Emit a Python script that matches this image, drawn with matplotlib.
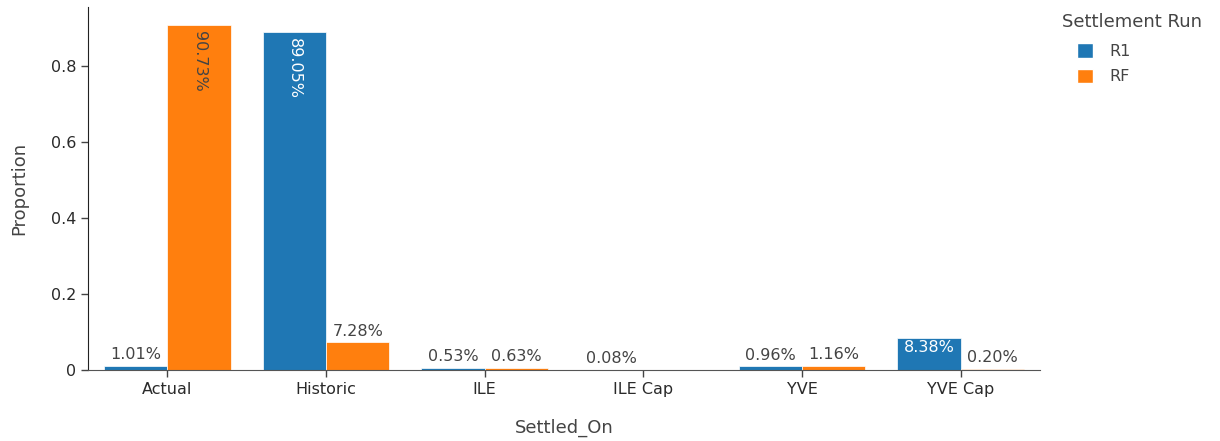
import numpy as np
import matplotlib
matplotlib.use('Agg')
import matplotlib.pyplot as plt
from matplotlib.patches import Patch

# data
categories = ['Actual', 'Historic', 'ILE', 'ILE Cap', 'YVE', 'YVE Cap']
r1 = [0.0101, 0.8905, 0.0053, 0.0008, 0.0096, 0.0838]
rf = [0.9073, 0.0728, 0.0063, np.nan, 0.0116, 0.0020]
series_names = ['R1', 'RF']
colors = ['#1f77b4', '#ff7f0e']
text_in = ['white', '#444444']

plt.rcParams['font.family'] = ['DejaVu Sans']
txt = '#444444'
fs = 11.5

fig = plt.figure(figsize=(12.2, 4.41), dpi=100)
ax = fig.add_axes([88 / 1220, 1 - 370 / 441, (1040 - 88) / 1220, (370 - 7) / 441])

x = np.arange(len(categories))
w = 0.4
for i, (vals, col, tcol) in enumerate(zip([r1, rf], colors, text_in)):
    off = (i - 0.5) * w
    for xi, v in zip(x, vals):
        if np.isnan(v):
            continue
        ax.bar(xi + off, v, width=w, color=col, edgecolor='white', linewidth=0.5)
        label = f'{v * 100:.2f}%'
        if v > 0.5:
            ax.text(xi + off, v - 0.016, label, rotation=-90, ha='center', va='top',
                    color=tcol, fontsize=fs)
        elif v > 0.08:
            ax.text(xi + off, v - 0.006, label, ha='center', va='top',
                    color=tcol, fontsize=fs)
        else:
            ax.text(xi + off, v + 0.01, label, ha='center', va='bottom',
                    color=txt, fontsize=fs)

ax.set_xlim(-0.5, 5.5)
ax.set_ylim(0, 0.955)
ax.set_xticks(x)
ax.set_xticklabels(categories)
ax.set_yticks([0, 0.2, 0.4, 0.6, 0.8])
ax.set_yticklabels(['0', '0.2', '0.4', '0.6', '0.8'])
ax.tick_params(axis='both', colors='#444444', labelsize=fs, length=5, width=1,
               labelcolor='#2a2a2a')
ax.spines['top'].set_visible(False)
ax.spines['right'].set_visible(False)
ax.spines['left'].set_color('#222222')
ax.spines['bottom'].set_color('#555555')
ax.set_xlabel('Settled_On', fontsize=13, color=txt, labelpad=16)
ax.set_ylabel('Proportion', fontsize=13, color=txt, labelpad=16)

fig.text(1062 / 1220, 1 - 22 / 441, 'Settlement Run', fontsize=13, color=txt,
         ha='left', va='center')
handles = [Patch(facecolor=c, edgecolor='white') for c in colors]
leg = fig.legend(handles, series_names, loc='upper left',
                 bbox_to_anchor=(1063 / 1220, 1 - 29 / 441), frameon=False,
                 fontsize=fs, handlelength=1.0,
                 handleheight=1.0, handletextpad=1.0, labelspacing=0.6)
for t in leg.get_texts():
    t.set_color(txt)

fig.savefig('out.png', dpi=100, facecolor='white')
